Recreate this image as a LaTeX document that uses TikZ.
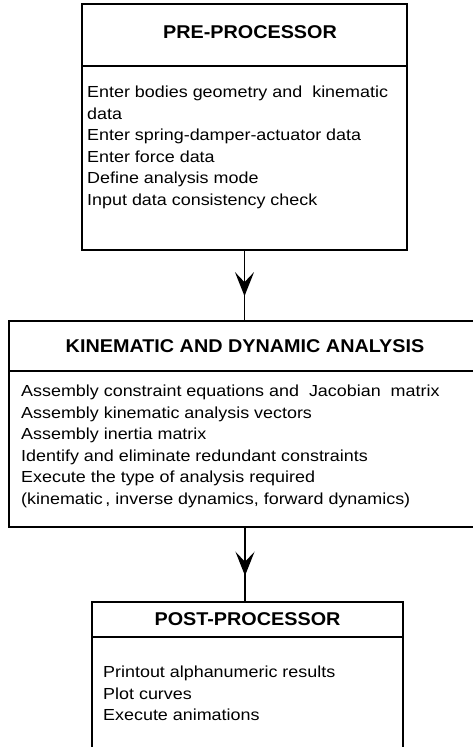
\documentclass[tikz,border=0pt]{standalone}
\usepackage{fontspec}
\setmainfont{Liberation Sans}
\newfontfamily\bodyfont[FakeStretch=1.12]{Liberation Sans}
\newfontfamily\headfont[FakeStretch=1.07]{Liberation Sans Bold}
\usetikzlibrary{positioning,arrows.meta,decorations.markings}

\begin{document}
\begin{tikzpicture}[x=1pt,y=-1pt,
  box/.style = {draw,line width=1.8pt,inner sep=0pt,outer sep=0pt},
  head/.style = {font=\headfont\fontsize{18.5}{20}\selectfont},
  body/.style = {anchor=north west,align=left,inner sep=0pt,
                 font=\bodyfont\fontsize{16}{21.5}\selectfont},
  flow/.style = {line width=1.8pt},
  arrowat/.style = {postaction={decorate,decoration={markings,
      mark=at position #1 with {\arrow{Stealth[length=24pt,width=19pt,inset=10pt]}}}}}]
\useasboundingbox (0,0) rectangle (473,747);
\clip (0,0) rectangle (473,747);

% pre-processor
\node[box,minimum width=325pt,minimum height=62pt] (preH) at (244.5,35) {};
\node[head] (preT) at ([shift={(5.5,-2.5)}]preH.center) {PRE-PROCESSOR};
\node[box,minimum width=325pt,minimum height=184pt,below=0pt of preH] (preB) {};
\node[body] (preL) at ([shift={(5,20)}]preB.north west)
  {Enter bodies geometry and \ kinematic\\data\\Enter spring-damper-actuator data\\
   Enter force data\\Define analysis mode\\Input data consistency check};

% analysis
\node[box,head,minimum width=472pt,minimum height=50pt] (kinH) at (245,346) {KINEMATIC AND DYNAMIC ANALYSIS};
\node[box,minimum width=472pt,minimum height=156pt,below=0pt of kinH] (kinB) {};
\node[body] (kinL) at ([shift={(12,14)}]kinB.north west)
  {Assembly constraint equations and \ Jacobian \ matrix\\Assembly kinematic analysis vectors\\
   Assembly inertia matrix\\Identify and eliminate redundant constraints\\
   Execute the type of analysis required\\(kinematic\,, inverse dynamics, forward dynamics)};

% post-processor
\node[box,head,minimum width=311pt,minimum height=35pt] (postH) at (247.5,619.5) {POST-PROCESSOR};
\node[box,minimum width=311pt,minimum height=133pt,below=0pt of postH] (postB) {};
\node[body] (postL) at ([shift={(11,29)}]postB.north west)
  {Printout alphanumeric results\\Plot curves\\Execute animations};

\draw[flow,arrowat=0.65] (preB.south) -- (preB.south |- kinH.north);
\draw[flow,arrowat=0.65] (kinB.south) -- (kinB.south |- postH.north);
\end{tikzpicture}
\end{document}
